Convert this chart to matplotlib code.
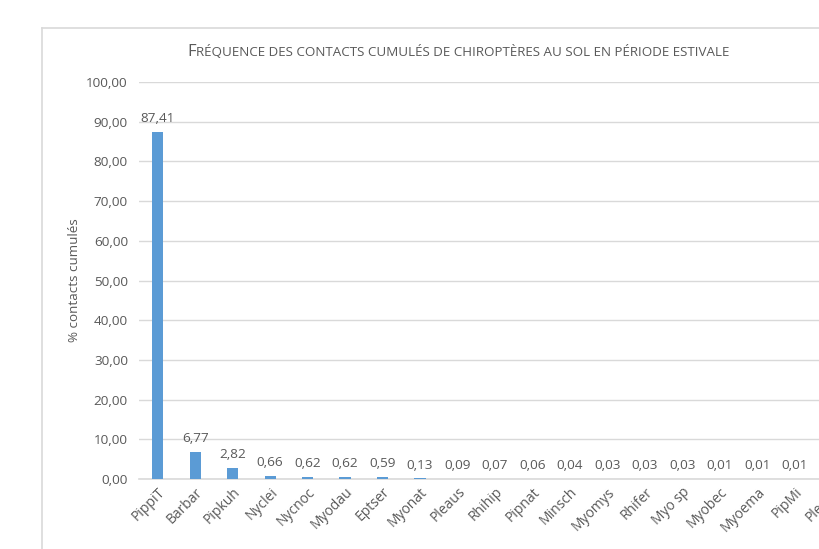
import matplotlib
matplotlib.use("Agg")
import matplotlib.pyplot as plt
from matplotlib.lines import Line2D

categories = ["PippiT", "Barbar", "Pipkuh", "Nyclei", "Nycnoc", "Myodau", "Eptser",
              "Myonat", "Pleaus", "Rhihip", "Pipnat", "Minsch", "Myomys", "Rhifer",
              "Myo sp", "Myobec", "Myoema", "PipMi", "Pleaur"]
values = [87.41, 6.77, 2.82, 0.66, 0.62, 0.62, 0.59, 0.13, 0.09, 0.07, 0.06, 0.04,
          0.03, 0.03, 0.03, 0.01, 0.01, 0.01, 0.01]
yticks = [0, 10, 20, 30, 40, 50, 60, 70, 80, 90, 100]

W, H = 820, 549
plt.rcParams['font.family'] = ['Open Sans', 'DejaVu Sans']
fig = plt.figure(figsize=(W / 100, H / 100), dpi=100)
fig.patch.set_facecolor('white')

txt = '#595959'
grid = '#D9D9D9'

# outer chart-area border
fig.add_artist(Line2D([42 / W, 42 / W], [0, 1 - 28 / H], transform=fig.transFigure, color=grid, lw=1.2))
fig.add_artist(Line2D([42 / W, 1], [1 - 28 / H, 1 - 28 / H], transform=fig.transFigure, color=grid, lw=1.2))

ax = fig.add_axes([139 / W, 1 - 479 / H, 712 / W, (479 - 82) / H])
x = list(range(len(categories)))
ax.bar(x, values, width=0.3, color='#5B9BD5', zorder=3)
ax.set_xlim(-0.5, len(categories) - 0.5)
ax.set_ylim(0, 100)
ax.set_yticks(yticks)
ax.set_yticklabels([f"{v:.2f}".replace('.', ',') for v in yticks], color=txt, fontsize=9.7)
ax.yaxis.grid(True, color=grid, lw=1, zorder=0)
for s in ['top', 'right', 'left']:
    ax.spines[s].set_visible(False)
ax.spines['bottom'].set_color(grid)
ax.spines['bottom'].set_linewidth(1.2)
ax.tick_params(axis='y', length=0, pad=8)
ax.tick_params(axis='x', length=0, pad=4)
ax.set_xticks(x)
ax.set_xticklabels(categories, rotation=45, ha='right', rotation_mode='anchor',
                   color=txt, fontsize=10)
# value labels (the last bar's label falls outside the visible area, as in the reference)
for xi, v in list(zip(x, values))[:-1]:
    ax.annotate(f"{v:.2f}".replace('.', ','), (xi, v), xytext=(0, 5), textcoords='offset points',
                ha='center', va='bottom', color=txt, fontsize=9.7)
ax.set_ylabel("% contacts cumulés", color=txt, fontsize=9.7)
ax.yaxis.set_label_coords((81 - 139) / 712, 0.5)

# title with small-caps effect
t1 = fig.text(187 / W, 1 - 56 / H, "F", fontsize=12, color=txt, ha='left', va='baseline')
t2 = fig.text(0, 0, "RÉQUENCE DES CONTACTS CUMULÉS DE CHIROPTÈRES AU SOL EN PÉRIODE ESTIVALE",
              fontsize=9.6, color=txt, ha='left', va='baseline')
fig.canvas.draw()
bb = t1.get_window_extent()
t2.set_position(((bb.x1 + 0.5) / W, 1 - 56 / H))

fig.savefig("out.png", dpi=100)
